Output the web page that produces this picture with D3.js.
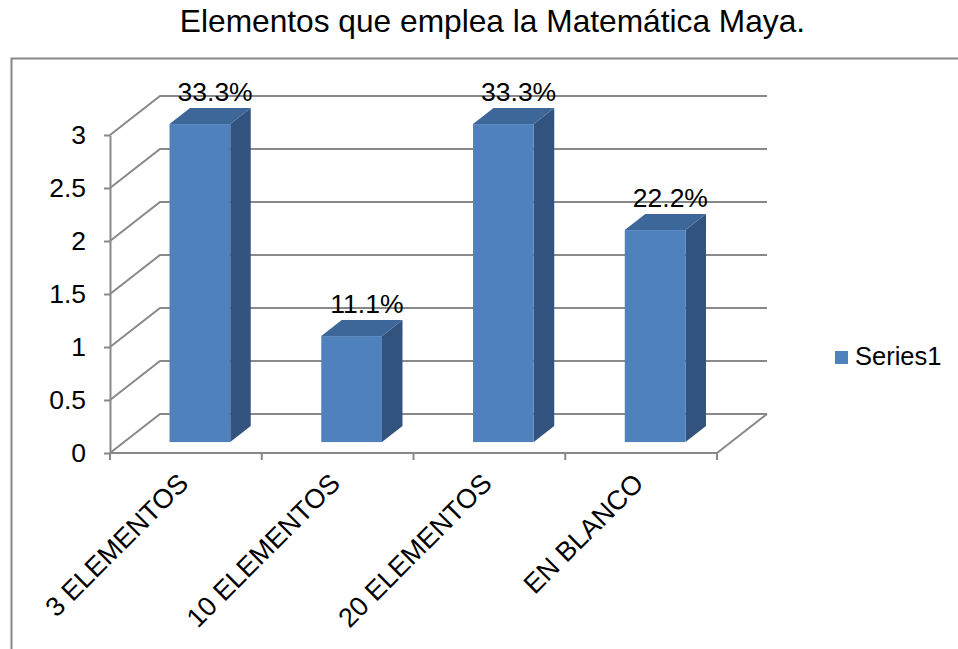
<!DOCTYPE html>
<html>
<head>
<meta charset="utf-8">
<script src="https://cdn.jsdelivr.net/npm/d3@7"></script>
<style>
  html, body { margin: 0; padding: 0; background: #fff; }
  svg { display: block; font-family: "Liberation Sans", Arial, sans-serif; }
</style>
</head>
<body>
<svg id="chart" width="958" height="649"></svg>
<script>
// Chart data
const categories = ["3 ELEMENTOS", "10 ELEMENTOS", "20 ELEMENTOS", "EN BLANCO"];
const values = [3, 1, 3, 2];
const valueLabels = ["33.3%", "11.1%", "33.3%", "22.2%"];
const yTickValues = [0, 0.5, 1, 1.5, 2, 2.5, 3];
const seriesName = "Series1";
const titleText = "Elementos que emplea la Matemática Maya.";

const svg = d3.select("#chart");

// Front plane of the 3D box and its depth vector (oblique projection)
const left = 110, right = 717, floorY = 453, topY = 135;
const depth = { dx: 50, dy: -39 };
const barFront = 0.28, barDepth = 0.41; // as fractions of the full depth

const x = d3.scaleBand().domain(categories).range([left, right]).paddingInner(0).paddingOuter(0);
const y = d3.scaleLinear().domain([0, 3]).range([floorY, topY]);

const gridColor = "#898989";
const colors = { front: "#4f81bd", top: "#3d6699", side: "#33537f" };

// Outer chart border
svg.append("rect")
  .attr("x", 11.5).attr("y", 58.5)
  .attr("width", 1200).attr("height", 1200)
  .attr("fill", "none").attr("stroke", "#878787").attr("stroke-width", 2);

// Title
svg.append("text")
  .attr("x", 492.5).attr("y", 32)
  .attr("text-anchor", "middle")
  .attr("font-size", 31.7)
  .attr("fill", "#000")
  .text(titleText);

// Gridlines: diagonal on the side wall, horizontal on the back wall
const grid = svg.append("g").attr("stroke", gridColor).attr("stroke-width", 2).attr("fill", "none");
yTickValues.forEach(v => {
  const yy = y(v);
  grid.append("path")
    .attr("d", `M${left},${yy}L${left + depth.dx},${yy + depth.dy}L${right + depth.dx},${yy + depth.dy}`);
});

// Floor: front edge (category axis) and right edge
grid.append("path")
  .attr("d", `M${left},${floorY}L${right},${floorY}L${right + depth.dx},${floorY + depth.dy}`);

// Category tick marks at band boundaries
const bounds = categories.map(c => x(c)).concat([right]);
grid.selectAll("line.cat-tick").data(bounds).join("line")
  .attr("class", "cat-tick")
  .attr("x1", d => d).attr("x2", d => d)
  .attr("y1", floorY).attr("y2", floorY + 7);

// Bars as 3D boxes
const bw = x.bandwidth() * 0.4;
const fx = depth.dx * barFront, fy = depth.dy * barFront;
const ddx = depth.dx * barDepth, ddy = depth.dy * barDepth;

const bars = svg.append("g");
categories.forEach((c, i) => {
  const cx = x(c) + x.bandwidth() / 2 + fx;
  const x0 = cx - bw / 2, x1 = cx + bw / 2;
  const yb = y(0) + fy, yt = y(values[i]) + fy;
  const g = bars.append("g");
  // side face
  g.append("path")
    .attr("d", `M${x1},${yb}L${x1 + ddx},${yb + ddy}L${x1 + ddx},${yt + ddy}L${x1},${yt}Z`)
    .attr("fill", colors.side);
  // top face
  g.append("path")
    .attr("d", `M${x0},${yt}L${x1},${yt}L${x1 + ddx},${yt + ddy}L${x0 + ddx},${yt + ddy}Z`)
    .attr("fill", colors.top);
  // front face
  g.append("rect")
    .attr("x", x0).attr("y", yt)
    .attr("width", bw).attr("height", yb - yt)
    .attr("fill", colors.front);
  // value label above the bar
  g.append("text")
    .attr("x", cx + ddx / 2 + 5)
    .attr("y", yt + ddy - 7)
    .attr("text-anchor", "middle")
    .attr("font-size", 26.5)
    .attr("fill", "#000")
    .text(valueLabels[i]);
});

// Value axis
const yAxis = d3.axisLeft(y)
  .tickValues(yTickValues)
  .tickSize(6)
  .tickSizeOuter(0)
  .tickPadding(18)
  .tickFormat(d3.format(""));
const ya = svg.append("g").attr("transform", `translate(${left},0)`).call(yAxis);
ya.selectAll("path, line").attr("stroke", gridColor).attr("stroke-width", 2);
ya.selectAll("text").attr("font-size", 26.5).attr("fill", "#000")
  .attr("font-family", "'Liberation Sans', Arial, sans-serif");

// Category labels, rotated
svg.append("g").selectAll("text").data(categories).join("text")
  .attr("transform", d => `translate(${x(d) + x.bandwidth() / 2 + 4},${floorY + 32}) rotate(-45)`)
  .attr("text-anchor", "end")
  .attr("font-size", 27)
  .attr("fill", "#000")
  .text(d => d);

// Legend
const lg = svg.append("g");
lg.append("rect").attr("x", 835).attr("y", 351).attr("width", 13).attr("height", 13).attr("fill", colors.front);
lg.append("text").attr("x", 855).attr("y", 365).attr("font-size", 25.5).attr("fill", "#000").text(seriesName);
</script>
</body>
</html>
